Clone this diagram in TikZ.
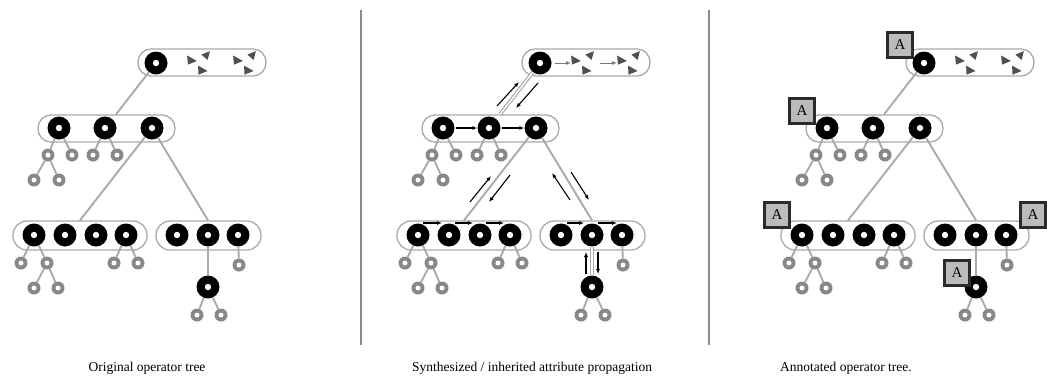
\documentclass[tikz,border=0pt]{standalone}
\usepackage{fontspec}
\setmainfont{Liberation Serif}
\usetikzlibrary{arrows.meta,calc}

\definecolor{edgegray}{HTML}{AAAAAA}
\definecolor{leafgray}{HTML}{888888}
\definecolor{shardgray}{HTML}{505050}
\definecolor{taggray}{HTML}{BBBBBB}
\definecolor{tagline}{HTML}{2A2A2A}
\definecolor{rulegray}{HTML}{8C8C8C}
\definecolor{flowgray}{HTML}{777777}

\tikzset{
  opbox/.style={draw=edgegray, line width=1.3, fill=white, rounded corners=13,
    inner sep=0, minimum height=27},
  tallbox/.style={opbox, minimum height=29, rounded corners=14},
  op/.style={circle, fill=black, inner sep=0, minimum size=23,
    path picture={\fill[white] (path picture bounding box.center) circle (3.2pt);}},
  leaf/.style={circle, fill=leafgray, inner sep=0, minimum size=13,
    path picture={\fill[white] (path picture bounding box.center) circle (2.5pt);}},
  edge/.style={draw=edgegray, line width=1.9},
  dedge/.style={draw=edgegray, line width=1.2, double=white, double distance=1.4},
  flow/.style={draw=black, line width=1.1, -{Latex[length=5pt,width=4pt]}},
  gflow/.style={draw=flowgray, line width=1, -{Latex[length=5pt,width=4pt]}},
  tag/.style={draw=tagline, line width=2.5, fill=taggray, minimum size=25,
    inner sep=0, font=\fontsize{15}{15}\selectfont},
  caption/.style={anchor=base, font=\fontsize{13.5}{16}\selectfont},
  rule/.style={draw=rulegray, line width=1.8},
  % three scattered tuple fragments
  shards/.pic={
    \fill[shardgray] (-11.9,-6) -- (-11,3.1) -- (-2.1,-0.5) -- cycle
      (10.9,-10.4) -- (2.4,-6.9) -- (8.6,-1.5) -- cycle
      (-0.9,4.1) -- (-0.5,13.1) -- (8.6,9.5) -- cycle;
  }
}

% One operator tree; #1 = name prefix, #2 = style of the top and the
% lower vertical feed edge
\newcommand\optree[2]{%
  % operator groups
  \node[opbox, minimum width=128] (#1box0) at (202,62.5) {};
  \node[opbox, minimum width=137] (#1box1) at (106.5,128.5) {};
  \node[tallbox, minimum width=134] (#1box2) at (80,235.5) {};
  \node[tallbox, minimum width=105] (#1box3) at (208.5,235.5) {};
  \pic at (199,61.5) {shards};
  \pic at (245,61.5) {shards};
  % operators
  \node[op] (#1t)  at (156,63) {};
  \node[op] (#1a1) at (59,128) {};
  \node[op] (#1a2) at (105,128) {};
  \node[op] (#1a3) at (152,128) {};
  \node[op] (#1b1) at (34,235) {};
  \node[op] (#1b2) at (65,235) {};
  \node[op] (#1b3) at (96,235) {};
  \node[op] (#1b4) at (126,235) {};
  \node[op] (#1c1) at (177,235) {};
  \node[op] (#1c2) at (208,235) {};
  \node[op] (#1c3) at (238,235) {};
  \node[op] (#1d)  at (208,287) {};
  % leaves
  \node[leaf] (#1g1) at (48,155) {};
  \node[leaf] (#1g2) at (72,155) {};
  \node[leaf] (#1g3) at (93,155) {};
  \node[leaf] (#1g4) at (117,155) {};
  \node[leaf] (#1g5) at (34,180) {};
  \node[leaf] (#1g6) at (59,180) {};
  \node[leaf] (#1h1) at (21,263) {};
  \node[leaf] (#1h2) at (47,263) {};
  \node[leaf] (#1h3) at (114,263) {};
  \node[leaf] (#1h4) at (138,263) {};
  \node[leaf] (#1h5) at (34,288) {};
  \node[leaf] (#1h6) at (58,288) {};
  \node[leaf] (#1k1) at (239,265) {};
  \node[leaf] (#1k2) at (197,315) {};
  \node[leaf] (#1k3) at (221,315) {};
  % tree edges
  \draw[#2] (#1t) -- ($(#1box1.north)+(9.5,0)$);
  \draw[edge] (#1a3) -- (#1box2.north);
  \draw[edge] (#1a3) -- (#1c2 |- #1box3.north);
  \draw[#2] (#1c2) -- (#1d);
  \draw[edge] (#1a1) -- (#1g1);
  \draw[edge] (#1a1) -- (#1g2);
  \draw[edge] (#1a2) -- (#1g3);
  \draw[edge] (#1a2) -- (#1g4);
  \draw[edge] (#1g1) -- (#1g5);
  \draw[edge] (#1g1) -- (#1g6);
  \draw[edge] (#1b1) -- (#1h1);
  \draw[edge] (#1b1) -- (#1h2);
  \draw[edge] (#1b4) -- (#1h3);
  \draw[edge] (#1b4) -- (#1h4);
  \draw[edge] (#1h2) -- (#1h5);
  \draw[edge] (#1h2) -- (#1h6);
  \draw[edge] (#1c3) -- (#1k1);
  \draw[edge] (#1d) -- (#1k2);
  \draw[edge] (#1d) -- (#1k3);
}

\begin{document}
\begin{tikzpicture}[x=1pt, y=-1pt]
  \fill[white] (0,0) rectangle (1047,381);
  \useasboundingbox (0,0) rectangle (1047,381);

  % left: plain tree
  \optree{L-}{edge}

  % middle: attribute flow
  \begin{scope}[xshift=384]
    \optree{M-}{dedge}
    \draw[gflow] ($(M-t)+(15,0)$) -- ($(M-t)+(31,0)$);
    \draw[gflow] ($(M-t)+(60,0)$) -- ($(M-t)+(77,0)$);
    \draw[flow] ($(M-t)+(-43,43)$) -- ($(M-t)+(-21,19)$);
    \draw[flow] ($(M-t)+(-2,20)$) -- ($(M-t)+(-24,45)$);
    \draw[flow, shorten <=1.5pt] (M-a1) -- (M-a2);
    \draw[flow, shorten <=1.5pt] (M-a2) -- (M-a3);
    \draw[flow] ($(M-a3)+(-66,74)$) -- ($(M-a3)+(-45,48)$);
    \draw[flow] ($(M-a3)+(-26,47)$) -- ($(M-a3)+(-47,74)$);
    \draw[flow] ($(M-a3)+(34,72)$) -- ($(M-a3)+(16,45)$);
    \draw[flow] ($(M-a3)+(35,44)$) -- ($(M-a3)+(53,72)$);
    \draw[flow] ($(M-b1)+(5,-12)$) -- ($(M-b2)+(-7,-12)$);
    \draw[flow] ($(M-b2)+(6,-12)$) -- ($(M-b3)+(-7,-12)$);
    \draw[flow] ($(M-b3)+(6,-12)$) -- ($(M-b4)+(-6,-12)$);
    \draw[flow] ($(M-c1)+(6,-12)$) -- ($(M-c2)+(-8,-12)$);
    \draw[flow] ($(M-c2)+(6,-12)$) -- ($(M-c3)+(-5,-12)$);
    \draw[flow] ($(M-d)+(-6,-13)$) -- ($(M-d)+(-6,-35)$);
    \draw[flow] ($(M-d)+(6,-35)$) -- ($(M-d)+(6,-13)$);
  \end{scope}

  % right: annotated tree
  \begin{scope}[xshift=768]
    \optree{R-}{edge}
    \node[tag] (R-tag0) at ($(R-t)+(-24,-18)$) {A};
    \node[tag] (R-tag1) at ($(R-a1)+(-25,-17)$) {A};
    \node[tag] (R-tag2) at ($(R-b1)+(-25,-20)$) {A};
    \node[tag] (R-tag3) at ($(R-c3)+(27,-20)$) {A};
    \node[tag] (R-tag4) at ($(R-d)+(-19,-14)$) {A};
  \end{scope}

  % panel separators
  \coordinate (sepA1) at (361,10);
  \coordinate (sepA2) at (361,345);
  \coordinate (sepB1) at (709,10);
  \coordinate (sepB2) at (709,345);
  \draw[rule] (sepA1) -- (sepA2);
  \draw[rule] (sepB1) -- (sepB2);

  % captions
  \node[caption] (cap1) at (147,371) {Original operator tree};
  \node[caption] (cap2) at (532,371) {Synthesized / inherited attribute propagation};
  \node[caption] (cap3) at (846,371) {Annotated operator tree.};
\end{tikzpicture}
\end{document}
